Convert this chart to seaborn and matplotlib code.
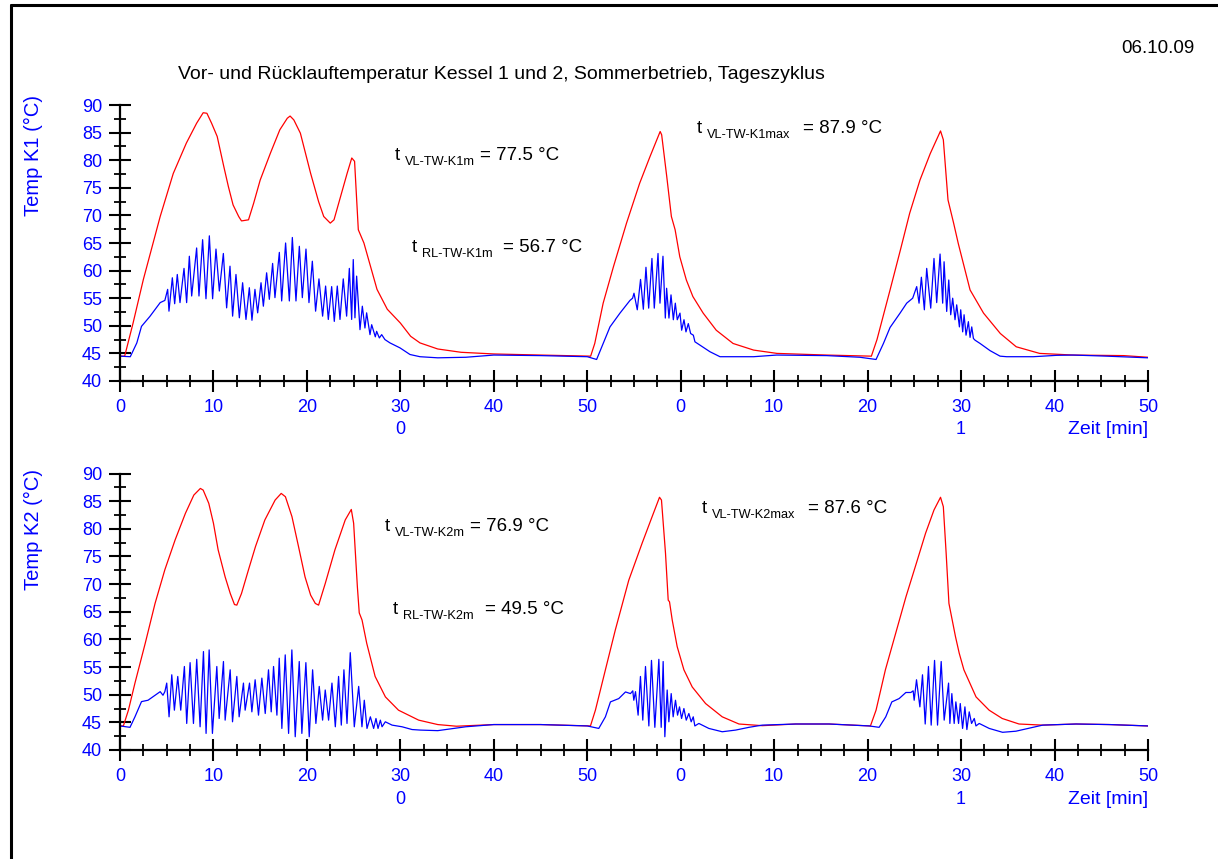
import matplotlib
matplotlib.use("Agg")
import matplotlib.pyplot as plt
import matplotlib.ticker as mticker
import matplotlib.transforms as mtransforms
from matplotlib.lines import Line2D
import pandas as pd
import seaborn as sns

# ---- values: (time in min, temperature in degC) ----
k1_vl = [
    (0, 44.5), (0.5, 44.5), (1.4, 50.5), (2.5, 58.4), (4.3, 69.8), (5.7, 77.6), (7.1, 83.1), (8.2, 86.7),
    (8.9, 88.6), (9.3, 88.5), (9.8, 86.7), (10.4, 84.3), (11.1, 78.9), (11.6, 75.2), (12.1, 71.9), (12.7, 69.8),
    (13.0, 69.0), (13.75, 69.2), (14.3, 72.2), (15.0, 76.4), (16.1, 81.3), (17.1, 85.5), (17.9, 87.6), (18.2, 88.0),
    (18.6, 87.3), (19.3, 84.9), (20.4, 77.6), (21.25, 72.5), (21.8, 69.8), (22.5, 68.6), (22.9, 69.2), (23.6, 73.4),
    (24.3, 77.6), (24.8, 80.4), (25.1, 79.8), (25.5, 67.4), (26.1, 65.0), (26.8, 60.8), (27.5, 56.6), (28.6, 53.0),
    (30.0, 50.5), (31.1, 48.1), (32.1, 46.9), (34.0, 45.8), (36.5, 45.2), (40.0, 44.9), (45.0, 44.7),
    (50.36, 44.5), (50.8, 46.8), (51.7, 54.1), (52.8, 60.7), (54.2, 68.6), (55.6, 75.8), (56.7, 80.6), (57.8, 85.2),
    (57.96, 84.6), (58.5, 77.1), (59.0, 69.8), (59.4, 67.4), (59.9, 62.5), (60.6, 58.3), (61.3, 55.3), (62.4, 52.3),
    (63.8, 49.2), (65.6, 46.8), (67.8, 45.6), (70.3, 45.0), (75.6, 44.7), (80.4, 44.5),
    (81.0, 47.5), (82.4, 56.5), (83.5, 63.7), (84.5, 70.4), (85.6, 76.4), (86.7, 81.2), (87.8, 85.3), (88.1, 83.7),
    (88.6, 72.8), (89.2, 68.6), (89.7, 64.9), (90.96, 56.5), (92.4, 52.3), (94.2, 48.6), (95.9, 46.2), (98.4, 45.0),
    (102.0, 44.7), (107.4, 44.6), (110.0, 44.3),
]

k1_rl = [
    (0, 44.5), (1.1, 44.4), (1.8, 46.9), (2.3, 49.9), (3.2, 51.7), (4.3, 54.2), (4.8, 54.6),
    (5.10, 56.6), (5.24, 52.65), (5.60, 58.7), (5.85, 54.0), (6.13, 59.3), (6.42, 54.2), (6.85, 60.4), (7.13, 54.2),
    (7.42, 62.6), (7.67, 55.4), (8.20, 64.1), (8.45, 55.4), (8.84, 65.6), (9.20, 54.9), (9.56, 66.3), (9.91, 54.9),
    (10.27, 63.9), (10.63, 56.3), (11.06, 63.1), (11.41, 53.25), (11.77, 60.8), (12.05, 51.75), (12.41, 59.3),
    (12.77, 51.45), (13.12, 57.8), (13.48, 51.15), (13.84, 56.9), (14.12, 51.0), (14.44, 56.6), (14.73, 52.35),
    (15.09, 57.8), (15.34, 53.55), (15.69, 59.6), (15.98, 54.8), (16.33, 61.3), (16.58, 55.1), (17.05, 63.3),
    (17.30, 54.5), (17.72, 65.0), (18.12, 54.5), (18.44, 66.0), (18.83, 54.5), (19.19, 64.4), (19.51, 55.1),
    (19.90, 63.9), (20.22, 54.2), (20.58, 61.7), (20.93, 52.65), (21.29, 58.5), (21.68, 51.75), (22.00, 57.2),
    (22.29, 51.15), (22.65, 57.1), (22.93, 50.8), (23.25, 57.2), (23.54, 51.15), (23.89, 58.5), (24.25, 51.75),
    (24.54, 60.4), (24.79, 51.15), (24.96, 62.0), (25.14, 51.45), (25.32, 59.0), (25.68, 49.3), (25.93, 53.55),
    (26.21, 49.6), (26.39, 52.35), (26.75, 48.4), (26.93, 50.2), (27.32, 48.0), (27.46, 49.0), (27.75, 47.8),
    (28.00, 48.4), (28.35, 47.5), (28.89, 46.9), (29.96, 46.0), (31.03, 44.8), (32.10, 44.4), (34.0, 44.2),
    (37.0, 44.3), (40.0, 44.7), (45.0, 44.6), (50.0, 44.4), (51.0, 43.9),
    (51.7, 46.8), (52.43, 49.8), (53.5, 52.3), (54.57, 54.6), (54.85, 55.0), (55.0, 55.9), (55.35, 52.9),
    (55.7, 58.4), (56.0, 53.0), (56.28, 60.6), (56.57, 53.2), (56.92, 62.2), (57.17, 53.2), (57.57, 63.1),
    (57.78, 54.1), (58.1, 62.6), (58.35, 51.4), (58.49, 56.8), (58.74, 51.4), (58.96, 55.6), (59.21, 51.1),
    (59.42, 54.1), (59.63, 51.1), (59.92, 52.3), (60.1, 49.2), (60.35, 51.1), (60.56, 48.9), (60.81, 50.4),
    (61.06, 48.6), (61.35, 48.3), (61.52, 47.1), (62.06, 46.5), (63.13, 45.3), (64.2, 44.4), (65.6, 44.4),
    (67.8, 44.4), (70.26, 44.7), (75.61, 44.6), (79.18, 44.3), (80.9, 43.9),
    (81.69, 46.8), (82.4, 49.7), (83.47, 52.3), (84.18, 54.1), (84.82, 55.0), (85.25, 57.1), (85.5, 54.1),
    (85.75, 58.8), (86.07, 52.9), (86.32, 60.4), (86.75, 53.2), (87.1, 62.2), (87.39, 54.2), (87.75, 63.0),
    (88.03, 54.1), (88.18, 61.6), (88.46, 52.6), (88.68, 58.3), (88.89, 52.0), (89.1, 55.0), (89.35, 51.1),
    (89.53, 53.8), (89.82, 49.8), (89.96, 52.9), (90.17, 48.9), (90.32, 52.0), (90.53, 48.3), (90.78, 50.75),
    (90.96, 47.9), (91.14, 49.8), (91.32, 47.7), (91.49, 47.4), (92.03, 46.8), (93.1, 45.5), (94.17, 44.5),
    (94.88, 44.4), (96.3, 44.4), (97.73, 44.4), (100.23, 44.65), (102.0, 44.7), (105.58, 44.5), (110.0, 44.2),
]

k2_vl = [
    (0, 44.35), (0.36, 44.35), (0.9, 47.2), (1.6, 52.1), (2.7, 59.3), (3.75, 66.5), (4.8, 72.6), (5.9, 78.0),
    (7.0, 82.8), (7.9, 86.1), (8.6, 87.3), (8.9, 87.0), (9.5, 84.6), (10.0, 81.0), (10.5, 76.2), (11.25, 71.3),
    (11.8, 68.3), (12.25, 66.3), (12.5, 66.2), (13.0, 68.3), (13.75, 72.6), (14.5, 76.8), (15.5, 81.6), (16.6, 85.2),
    (17.25, 86.4), (17.7, 85.8), (18.4, 82.2), (19.1, 76.8), (19.8, 71.3), (20.4, 68.0), (20.9, 66.5), (21.25, 66.2),
    (21.96, 70.1), (23.0, 76.2), (24.1, 81.6), (24.75, 83.5), (25.0, 81.0), (25.4, 69.5), (25.6, 64.8), (25.9, 63.5),
    (26.4, 59.3), (27.3, 53.3), (28.4, 49.6), (29.8, 47.2), (31.96, 45.4), (34.0, 44.6), (36.0, 44.3), (40.0, 44.6),
    (45.0, 44.6),
    (50.34, 44.35), (50.87, 47.2), (51.94, 54.5), (53.0, 61.7), (54.44, 70.7), (55.87, 77.4), (56.94, 82.2),
    (57.73, 85.7), (57.94, 85.2), (58.37, 75.6), (58.66, 67.1), (58.8, 66.8), (59.09, 63.5), (59.62, 58.7),
    (60.34, 54.5), (61.23, 51.4), (62.66, 48.4), (64.44, 46.0), (66.23, 44.7), (68.73, 44.4), (72.3, 44.7),
    (75.87, 44.7),
    (80.3, 44.35), (80.9, 47.2), (81.9, 54.5), (83.0, 61.1), (84.1, 67.7), (85.2, 73.7), (86.2, 79.2), (87.1, 83.4),
    (87.8, 85.7), (88.1, 84.0), (88.4, 75.6), (88.7, 66.5), (89.4, 60.5), (89.8, 57.5), (90.3, 54.5), (91.6, 49.6),
    (93.0, 47.2), (94.4, 45.7), (96.2, 44.7), (98.7, 44.5), (102.3, 44.7), (105.9, 44.6), (110.0, 44.35),
]

k2_rl = [
    (0, 44.35), (1.07, 44.1), (1.6, 46.0), (2.3, 48.75), (3.0, 49.0), (3.75, 49.9), (4.3, 50.55), (4.6, 49.9),
    (4.8, 50.55), (5.0, 52.1), (5.25, 46.0), (5.54, 53.6), (5.82, 47.2), (6.18, 53.3), (6.5, 47.2), (6.89, 55.1),
    (7.14, 44.8), (7.5, 55.8), (7.86, 44.8), (8.21, 56.4), (8.57, 44.2), (8.93, 57.8), (9.21, 43.0), (9.54, 58.1),
    (9.89, 43.0), (10.36, 55.1), (10.61, 45.7), (11.07, 56.0), (11.25, 45.4), (11.79, 54.5), (12.04, 45.1),
    (12.5, 53.3), (12.75, 46.0), (13.21, 52.1), (13.39, 47.2), (13.86, 52.1), (14.11, 46.9), (14.46, 52.7),
    (14.82, 46.3), (15.18, 53.0), (15.54, 46.6), (15.89, 54.5), (16.18, 46.9), (16.43, 55.1), (16.79, 46.3),
    (17.04, 56.6), (17.32, 43.9), (17.68, 57.2), (18.04, 43.0), (18.39, 58.1), (18.75, 42.4), (19.18, 56.0),
    (19.46, 43.0), (19.89, 55.8), (20.25, 42.4), (20.61, 54.5), (20.96, 44.8), (21.32, 51.5), (21.68, 45.4),
    (21.96, 50.85), (22.32, 45.4), (22.68, 52.1), (23.04, 44.2), (23.39, 53.3), (23.68, 44.5), (23.96, 54.5),
    (24.29, 44.8), (24.64, 57.6), (25.07, 44.2), (25.54, 51.5), (25.89, 44.2), (26.14, 49.0), (26.43, 43.9),
    (26.79, 46.0), (27.14, 43.9), (27.39, 45.7), (27.61, 43.9), (27.86, 45.4), (28.04, 44.2), (28.39, 45.1),
    (29.11, 44.5), (30.18, 44.2), (31.25, 43.7), (32.14, 43.6), (34.0, 43.5), (37.0, 44.2), (40.0, 44.6),
    (45.0, 44.6), (50.0, 44.35), (51.23, 43.9),
    (51.94, 46.0), (52.48, 48.7), (53.37, 49.3), (54.09, 50.5), (54.62, 50.2), (54.87, 50.7), (54.98, 49.0),
    (55.16, 50.55), (55.44, 46.3), (55.69, 53.3), (55.94, 45.4), (56.23, 55.1), (56.59, 44.35), (56.87, 56.2),
    (57.23, 44.1), (57.66, 56.4), (57.91, 44.1), (58.12, 56.0), (58.3, 42.4), (58.55, 50.85), (58.73, 45.1),
    (58.98, 50.2), (59.19, 46.0), (59.44, 49.0), (59.66, 46.3), (59.87, 47.8), (60.09, 45.7), (60.34, 47.5),
    (60.59, 45.4), (60.87, 46.6), (61.12, 45.1), (61.34, 46.0), (61.51, 44.35), (61.94, 44.8), (63.01, 43.9),
    (64.44, 43.3), (65.87, 43.6), (67.3, 44.1), (68.73, 44.5), (72.3, 44.7), (75.87, 44.7), (80.16, 44.35),
    (81.23, 44.1),
    (81.94, 46.0), (82.59, 48.7), (83.37, 49.3), (84.09, 50.4), (84.62, 50.4), (84.87, 50.7), (84.98, 49.0),
    (85.23, 52.7), (85.59, 47.8), (85.87, 53.6), (86.16, 44.7), (86.51, 55.1), (86.8, 44.5), (87.16, 56.2),
    (87.48, 44.5), (87.87, 56.0), (88.19, 45.4), (88.66, 52.1), (88.8, 44.8), (89.01, 50.2), (89.26, 44.8),
    (89.44, 48.7), (89.73, 44.8), (89.91, 48.4), (90.16, 43.9), (90.41, 47.8), (90.62, 43.7), (90.87, 46.9),
    (91.12, 44.8), (91.41, 45.7), (91.59, 44.35), (91.94, 44.8), (93.01, 43.9), (94.44, 43.2), (95.87, 43.4),
    (97.66, 44.1), (98.73, 44.5), (102.3, 44.7), (105.87, 44.6), (110.0, 44.35),
]

x_ticks = list(range(0, 111, 10))
x_tick_labels = ["0", "10", "20", "30", "40", "50", "0", "10", "20", "30", "40", "50"]
y_ticks = list(range(40, 91, 5))
hour_labels = [(30, "0"), (90, "1")]

title = "Vor- und Rücklauftemperatur Kessel 1 und 2, Sommerbetrieb, Tageszyklus"
date_text = "06.10.09"

# (y label, vl series, rl series, annotations: (t x, baseline y, subscript, value, value x))
panels = [
    ("Temp K1 (°C)", k1_vl, k1_rl, [
        (395, 160, "VL-TW-K1m", "= 77.5 °C", 480),
        (412, 252, "RL-TW-K1m", "= 56.7 °C", 503),
        (697, 133, "VL-TW-K1max", "= 87.9 °C", 803),
    ]),
    ("Temp K2 (°C)", k2_vl, k2_rl, [
        (385, 531, "VL-TW-K2m", "= 76.9 °C", 470),
        (393, 614, "RL-TW-K2m", "= 49.5 °C", 485),
        (702, 513, "VL-TW-K2max", "= 87.6 °C", 808),
    ]),
]

sns.set_style("white")
plt.rcParams["font.family"] = ["Liberation Sans", "DejaVu Sans"]
plt.rcParams["text.color"] = "black"

BLUE = "#0000ff"
RED = "#ff0000"
W, H = 1218, 859


def fx(px):
    return px / W


def fy(py):
    return 1 - py / H


fig = plt.figure(figsize=(W / 100, H / 100), dpi=100)

# outer frame (left and top edge visible)
fig.add_artist(Line2D([fx(11), fx(11)], [fy(5), -0.01], color="black", lw=2.2))
fig.add_artist(Line2D([fx(11), 1.01], [fy(5), fy(5)], color="black", lw=2.2))

fig.text(fx(1195), fy(53), date_text, fontsize=13.5, ha="right", va="baseline")
fig.text(fx(178), fy(79), title, fontsize=14, ha="left", va="baseline")

axes_px = [(105, 381), (473.5, 750)]
ylabel_pos = [155, 530]

for (ylab, vl, rl, notes), (top, bottom), ylab_y in zip(panels, axes_px, ylabel_pos):
    ax = fig.add_axes([fx(120), fy(bottom), 1028 / W, (bottom - top) / H])
    ax.patch.set_alpha(0)
    df_vl = pd.DataFrame(vl, columns=["t", "temp"])
    df_rl = pd.DataFrame(rl, columns=["t", "temp"])
    sns.lineplot(data=df_vl, x="t", y="temp", ax=ax, color=RED, lw=0.9,
                 estimator=None, sort=False)
    sns.lineplot(data=df_rl, x="t", y="temp", ax=ax, color=BLUE, lw=0.9,
                 estimator=None, sort=False)
    ax.set_xlim(0, 110)
    ax.set_ylim(40, 90)
    ax.set_xlabel("")
    ax.set_ylabel("")
    for s in ["top", "right"]:
        ax.spines[s].set_visible(False)
    for s in ["left", "bottom"]:
        ax.spines[s].set_color("black")
        ax.spines[s].set_linewidth(1.6)
    ax.xaxis.set_major_locator(mticker.FixedLocator(x_ticks))
    ax.xaxis.set_major_formatter(mticker.FixedFormatter(x_tick_labels))
    ax.xaxis.set_minor_locator(mticker.MultipleLocator(2.5))
    ax.yaxis.set_major_locator(mticker.FixedLocator(y_ticks))
    ax.yaxis.set_minor_locator(mticker.MultipleLocator(2.5))
    ax.tick_params(which="major", direction="inout", length=16, width=1.5,
                   color="black", labelcolor=BLUE, labelsize=13, pad=5,
                   bottom=True, left=True)
    ax.tick_params(which="minor", direction="inout", length=9, width=1.3,
                   color="black", bottom=True, left=True)
    ax.grid(False)

    trans = mtransforms.blended_transform_factory(ax.transData, ax.transAxes)
    below = -(430 - 381) / 276
    for t, lab in hour_labels:
        ax.text(t, below, lab, transform=trans, ha="center", va="center",
                color=BLUE, fontsize=13)
    ax.text(110, below, "Zeit [min]", transform=trans, ha="right", va="center",
            color=BLUE, fontsize=14)

    fig.text(fx(33), fy(ylab_y), ylab, rotation=90, ha="center", va="center",
             color=BLUE, fontsize=14.5)

    for tx, by, sub, val, vx in notes:
        fig.text(fx(tx), fy(by), "t", fontsize=13.5, ha="left", va="baseline")
        fig.text(fx(tx + 10), fy(by + 5), sub, fontsize=9.2, ha="left", va="baseline")
        fig.text(fx(vx), fy(by), val, fontsize=13.5, ha="left", va="baseline")

fig.savefig("out.png", dpi=100)
